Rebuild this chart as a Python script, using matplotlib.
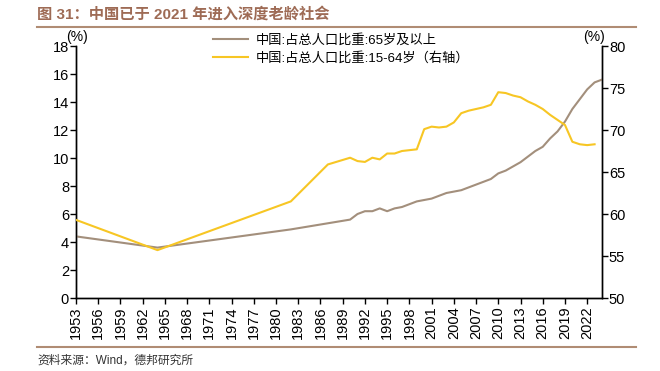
import matplotlib
matplotlib.use("Agg")
import matplotlib.pyplot as plt
from matplotlib.lines import Line2D

plt.rcParams['font.family'] = ['Liberation Sans', 'Noto Sans CJK SC', 'DejaVu Sans']

years_old = [1953, 1964, 1982, 1990, 1991, 1992, 1993, 1994, 1995, 1996, 1997, 1998, 1999,
             2000, 2001, 2002, 2003, 2004, 2005, 2006, 2007, 2008, 2009, 2010, 2011, 2012,
             2013, 2014, 2015, 2016, 2017, 2018, 2019, 2020, 2021, 2022, 2023, 2024]
share_65 = [4.4, 3.6, 4.9, 5.6, 6.0, 6.2, 6.2, 6.4, 6.2, 6.4, 6.5, 6.7, 6.9,
            7.0, 7.1, 7.3, 7.5, 7.6, 7.7, 7.9, 8.1, 8.3, 8.5, 8.9, 9.1, 9.4,
            9.7, 10.1, 10.5, 10.8, 11.4, 11.9, 12.6, 13.5, 14.2, 14.9, 15.4, 15.6]

years_work = [1953, 1964, 1982, 1987, 1990, 1991, 1992, 1993, 1994, 1995, 1996, 1997, 1998,
              1999, 2000, 2001, 2002, 2003, 2004, 2005, 2006, 2007, 2008, 2009, 2010, 2011,
              2012, 2013, 2014, 2015, 2016, 2017, 2018, 2019, 2020, 2021, 2022, 2023]
share_15_64 = [59.3, 55.7, 61.5, 65.9, 66.7, 66.3, 66.2, 66.7, 66.5, 67.2, 67.2, 67.5, 67.6,
               67.7, 70.1, 70.4, 70.3, 70.4, 70.9, 72.0, 72.3, 72.5, 72.7, 73.0, 74.5, 74.4,
               74.1, 73.9, 73.4, 73.0, 72.5, 71.8, 71.2, 70.6, 68.6, 68.3, 68.2, 68.3]

xticks = list(range(1953, 2023, 3))
title = "图 31：中国已于 2021 年进入深度老龄社会"
label_old = "中国:占总人口比重:65岁及以上"
label_work = "中国:占总人口比重:15-64岁（右轴）"
source = "资料来源：Wind，德邦研究所"

c_old = "#A38F7C"
c_work = "#F7C624"
c_title = "#9E6B55"
c_rule = "#B08C74"

fig = plt.figure(figsize=(6.6, 3.71), dpi=100)
ax = fig.add_axes([76/660, 1-298/371, (602-76)/660, (298-46)/371])
ax2 = ax.twinx()

ax.plot(years_old, share_65, color=c_old, lw=1.5, zorder=3)
ax2.plot(years_work, share_15_64, color=c_work, lw=1.5, zorder=3)

ax.set_xlim(1953, 2024)
ax.set_ylim(0, 18)
ax.set_yticks(range(0, 19, 2))
ax2.set_ylim(50, 80)
ax2.set_yticks(range(50, 81, 5))
ax.set_xticks(xticks)
ax.set_xticklabels([str(y) for y in xticks], rotation=90)

for a in (ax, ax2):
    a.spines['top'].set_visible(False)
    for s in a.spines.values():
        s.set_linewidth(1.0)
        s.set_color('black')
    a.tick_params(direction='out', length=4, width=1, labelsize=10.5, colors='black')
ax.tick_params(axis='x', pad=2)
ax.tick_params(axis='y', pad=1)
ax2.tick_params(axis='y', pad=1)

fig.text(77/660, 1-37/371, "(%)", fontsize=10, ha='center', va='center')
fig.text(594/660, 1-37/371, "(%)", fontsize=10, ha='center', va='center')

handles = [Line2D([], [], color=c_old, lw=1.5), Line2D([], [], color=c_work, lw=1.5)]
fig.legend(handles, [label_old, label_work], loc='upper left',
           bbox_to_anchor=(208/660, 1-29/371), frameon=False, fontsize=9.5,
           handlelength=2.6, handletextpad=0.6, labelspacing=0.35, borderaxespad=0)

fig.text(37/660, 1-14/371, title, fontsize=11, fontweight='bold', color=c_title,
         ha='left', va='center')
fig.add_artist(Line2D([37/660, 636/660], [1-27/371, 1-27/371], color=c_rule, lw=1.5,
                      transform=fig.transFigure))
fig.add_artist(Line2D([37/660, 636/660], [1-347/371, 1-347/371], color=c_rule, lw=1.5,
                      transform=fig.transFigure))
fig.text(37/660, 1-361/371, source, fontsize=8.5, color='#333333', ha='left', va='center')

fig.savefig("out.png", dpi=100)
